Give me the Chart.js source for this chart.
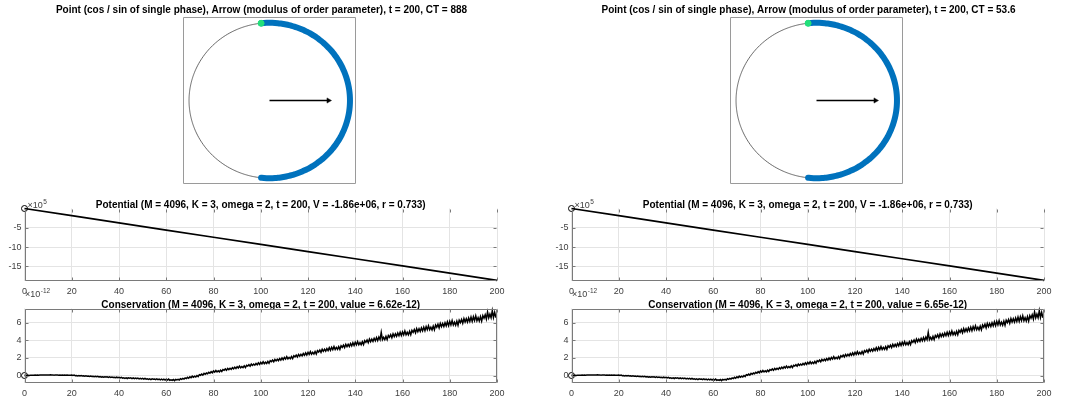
<!DOCTYPE html>
<html>
<head>
<meta charset="utf-8">
<script src="https://cdn.jsdelivr.net/npm/chart.js@4.4.1/dist/chart.umd.min.js"></script>
<style>
  html, body { margin: 0; padding: 0; background: #fff; overflow: hidden; }
  #fig { position: relative; width: 1069px; height: 403px; overflow: hidden; }
  #fig canvas { position: absolute; }
</style>
</head>
<body>
<div id="fig">
  <canvas id="circleL" width="539" height="184" style="left:-8px;top:5px"></canvas>
  <canvas id="potentialL" width="540" height="103" style="left:0px;top:198px"></canvas>
  <canvas id="conservationL" width="540" height="115" style="left:0px;top:288px"></canvas>
  <canvas id="circleR" width="539" height="184" style="left:539px;top:5px"></canvas>
  <canvas id="potentialR" width="540" height="103" style="left:547px;top:198px"></canvas>
  <canvas id="conservationR" width="540" height="115" style="left:547px;top:288px"></canvas>
</div>
<script>
// values
const timeTicks = [0, 20, 40, 60, 80, 100, 120, 140, 160, 180, 200]
const potentialTime = [0, 20, 40, 60, 80, 100, 120, 140, 160, 180, 200]
const potentialE5 = [0, -1.86, -3.73, -5.59, -7.45, -9.31, -11.17, -13.03, -14.9, -16.76, -18.62]
const potentialTicks = [-15, -10, -5]
const conservationTicks = [0, 2, 4, 6]

// conservation error (x 1e-12), two samples per time unit, t = 0 .. 200
const conservationLeftE12 = [
  0, 0.02, 0.0, 0.03, 0.01, 0.04, 0.02, 0.04, 0.03, 0.05, 0.03, 0.06, 0.04, 0.06, 0.05, 0.07, 0.05, 0.07, 0.05, 0.07,
  0.07, 0.05, 0.08, 0.05, 0.07, 0.04, 0.07, 0.05, 0.06, 0.04, 0.06, 0.04, 0.06, 0.03, 0.05, 0.03, 0.05, 0.02, 0.04, 0.02,
  0.05, 0.0, 0.04, -0.02, 0.0, -0.04, 0.0, -0.06, -0.01, -0.05, -0.03, -0.08, -0.04, -0.08, -0.06, -0.1, -0.07, -0.11, -0.08, -0.13,
  -0.09, -0.14, -0.1, -0.16, -0.13, -0.18, -0.14, -0.2, -0.14, -0.18, -0.15, -0.21, -0.16, -0.21, -0.18, -0.23, -0.19, -0.24, -0.19, -0.25,
  -0.2, -0.28, -0.21, -0.3, -0.26, -0.32, -0.26, -0.34, -0.26, -0.31, -0.27, -0.35, -0.27, -0.35, -0.3, -0.37, -0.3, -0.38, -0.31, -0.39,
  -0.32, -0.4, -0.33, -0.42, -0.38, -0.44, -0.38, -0.46, -0.38, -0.43, -0.39, -0.47, -0.39, -0.47, -0.41, -0.49, -0.42, -0.49, -0.42, -0.51,
  -0.41, -0.52, -0.41, -0.54, -0.48, -0.56, -0.46, -0.58, -0.44, -0.51, -0.43, -0.51, -0.36, -0.44, -0.33, -0.41, -0.27, -0.35, -0.21, -0.31,
  -0.15, -0.25, -0.08, -0.2, -0.08, -0.16, 0.0, -0.12, 0.09, 0.03, 0.16, 0.05, 0.24, 0.14, 0.28, 0.19, 0.36, 0.26, 0.44, 0.31,
  0.51, 0.38, 0.57, 0.4, 0.53, 0.42, 0.6, 0.45, 0.68, 0.59, 0.74, 0.59, 0.8, 0.67, 0.82, 0.7, 0.89, 0.75, 0.95, 0.79,
  1.0, 0.85, 1.06, 0.87, 1.01, 0.89, 1.09, 0.91, 1.16, 1.07, 1.22, 1.06, 1.29, 1.14, 1.3, 1.17, 1.37, 1.22, 1.43, 1.25,
  1.49, 1.32, 1.56, 1.34, 1.51, 1.37, 1.59, 1.39, 1.68, 1.57, 1.75, 1.56, 1.82, 1.66, 1.84, 1.69, 1.92, 1.75, 2.0, 1.79,
  2.05, 1.86, 2.13, 1.88, 2.06, 1.9, 2.15, 1.92, 2.24, 2.11, 2.31, 2.1, 2.39, 2.2, 2.4, 2.23, 2.49, 2.29, 2.57, 2.33,
  2.63, 2.4, 2.71, 2.41, 2.62, 2.43, 2.72, 2.44, 2.81, 2.66, 2.89, 2.63, 2.97, 2.74, 2.98, 2.76, 3.06, 2.83, 3.15, 2.86,
  3.2, 2.94, 3.28, 2.95, 3.18, 2.96, 3.28, 2.97, 3.37, 3.2, 3.45, 3.17, 3.54, 3.28, 3.54, 3.3, 3.63, 3.37, 3.72, 3.4,
  3.77, 3.48, 3.85, 3.49, 3.74, 3.5, 3.84, 3.51, 3.95, 3.76, 4.03, 3.73, 4.13, 3.84, 4.12, 3.87, 4.22, 3.94, 4.31, 3.97,
  4.36, 4.06, 4.89, 4.06, 4.32, 4.07, 4.43, 4.07, 4.54, 4.34, 4.63, 4.29, 4.73, 4.42, 4.72, 4.44, 4.82, 4.51, 4.91, 4.54,
  4.95, 4.62, 5.04, 4.62, 4.9, 4.62, 5.01, 4.62, 5.12, 4.9, 5.21, 4.85, 5.31, 4.97, 5.3, 4.99, 5.39, 5.06, 5.49, 5.09,
  5.55, 5.19, 5.64, 5.19, 5.48, 5.18, 5.6, 5.18, 5.72, 5.48, 5.81, 5.41, 5.91, 5.55, 5.89, 5.56, 5.99, 5.63, 6.09, 5.66,
  6.15, 5.74, 6.23, 5.73, 6.05, 5.71, 6.17, 5.7, 6.28, 6.01, 6.36, 5.93, 6.46, 6.06, 6.43, 6.06, 6.53, 6.13, 6.63, 6.14,
  6.67, 6.23, 6.76, 6.21, 6.56, 6.19, 6.68, 6.17, 6.8, 6.5, 6.89, 6.41, 7.2, 6.55, 6.95, 6.55, 7.35, 6.58, 7.16, 6.63,
  6.62
]
const conservationRightE12 = conservationLeftE12.slice(0, 400).concat([6.65])
const conservationTime = conservationLeftE12.map((v, i) => i / 2)

const phaseSpanDeg = [-96, 96]   // spread of the oscillator phases (blue arc)
const singlePhaseDeg = 96        // the single tracked phase (green point)
const orderParamR = 0.733        // modulus of the order parameter (arrow)
const ctLabels = ['888', '53.6']
const conservationLabels = ['6.62e-12', '6.65e-12']

const FONT = "'Liberation Sans', Arial, Helvetica, sans-serif"
Chart.defaults.font.family = FONT
const gridColor = '#e4e4e4'
const tickColor = '#404040'
const axisColor = '#7a7a7a'

// box around the axes, inward tick marks and the x10^n multiplier
const axesBox = {
  id: 'axesBox',
  afterDraw(chart, args, opts) {
    const { ctx, chartArea: a } = chart
    const l = Math.round(a.left) + 0.5
    const r = Math.round(a.right) - 0.5
    const t = Math.round(a.top) + 0.5
    const b = Math.round(a.bottom) - 0.5
    ctx.save()
    ctx.strokeStyle = opts.color
    ctx.lineWidth = 1
    ctx.beginPath()
    if (opts.fullBox) {
      ctx.rect(l, t, r - l, b - t)
    } else {
      ctx.moveTo(l, t)
      ctx.lineTo(l, b)
      ctx.lineTo(r, b)
    }
    if (opts.tickLen) {
      const xs = chart.scales.x
      const ys = chart.scales.y
      xs.ticks.forEach((tk) => {
        const px = Math.round(xs.getPixelForValue(tk.value)) + 0.5
        ctx.moveTo(px, b)
        ctx.lineTo(px, b - opts.tickLen)
        ctx.moveTo(px, t)
        ctx.lineTo(px, t + opts.tickLen)
      })
      ys.ticks.forEach((tk) => {
        const py = Math.round(ys.getPixelForValue(tk.value)) + 0.5
        ctx.moveTo(l, py)
        ctx.lineTo(l + opts.tickLen, py)
        ctx.moveTo(r, py)
        ctx.lineTo(r - opts.tickLen, py)
      })
    }
    ctx.stroke()
    if (opts.exponent) {
      const ex = a.left + opts.expDx
      const ey = a.top + opts.expDy
      ctx.fillStyle = tickColor
      ctx.textAlign = 'left'
      ctx.textBaseline = 'middle'
      ctx.font = '9px ' + FONT
      ctx.fillText('\u00d710', ex, ey)
      const w = ctx.measureText('\u00d710').width
      ctx.font = '6.5px ' + FONT
      ctx.fillText(opts.exponent, ex + w + 0.5, ey - 3.5)
    }
    ctx.restore()
  },
}

function arcPoints(fromDeg, toDeg, stepDeg, r) {
  const pts = []
  for (let d = fromDeg; d <= toDeg + 1e-9; d += stepDeg) {
    const rad = (d * Math.PI) / 180
    pts.push({ x: r * Math.cos(rad), y: r * Math.sin(rad) })
  }
  return pts
}

// invisible side scale, used only to reserve the margin beside the square axes
function marginScale(position, width) {
  return {
    type: 'linear',
    position: position,
    display: true,
    min: -1.075,
    max: 1.075,
    afterFit: (s) => {
      s.width = width
    },
    ticks: { display: false },
    grid: { display: false },
    border: { display: false },
  }
}

function makeCircle(id, ct) {
  new Chart(document.getElementById(id), {
    type: 'scatter',
    data: {
      datasets: [
        {
          data: arcPoints(singlePhaseDeg, singlePhaseDeg, 1, 1),
          pointRadius: 3,
          pointBackgroundColor: '#22e07a',
          pointBorderColor: '#22e07a',
          clip: false,
        },
        {
          data: [{ x: 0, y: 0 }, { x: orderParamR, y: 0 }],
          showLine: true,
          borderColor: '#000',
          borderWidth: 1.5,
          pointStyle: 'triangle',
          pointRotation: 90,
          pointRadius: [0, 3],
          pointBackgroundColor: '#000',
          pointBorderColor: '#000',
          pointBorderWidth: 0.5,
          clip: false,
        },
        {
          data: arcPoints(phaseSpanDeg[0], phaseSpanDeg[1], 2, 1),
          showLine: true,
          borderColor: '#0072BD',
          borderWidth: 6,
          borderCapStyle: 'round',
          tension: 0.2,
          pointRadius: 0,
          clip: false,
        },
        {
          data: arcPoints(0, 360, 3, 1),
          showLine: true,
          borderColor: '#444',
          borderWidth: 0.8,
          tension: 0.2,
          pointRadius: 0,
          clip: false,
        },
      ],
    },
    options: {
      animation: false,
      responsive: false,
      devicePixelRatio: 1,
      events: [],
      layout: { padding: 0 },
      plugins: {
        legend: { display: false },
        tooltip: { enabled: false },
        title: {
          display: true,
          text: 'Point (cos / sin of single phase), Arrow (modulus of order parameter), t = 200, CT = ' + ct,
          color: '#000',
          font: { size: 10, weight: 'bold', lineHeight: 1 },
          padding: { top: 0, bottom: 2 },
        },
        axesBox: { fullBox: true, color: '#9a9a9a', tickLen: 0 },
      },
      scales: {
        x: { display: false, min: -1.075, max: 1.075 },
        y: marginScale('left', 191),
        y2: marginScale('right', 175),
      },
    },
    plugins: [axesBox],
  })
}

function makeLinePanel(id, cfg) {
  new Chart(document.getElementById(id), {
    type: 'line',
    data: {
      datasets: [
        {
          data: cfg.points,
          borderColor: '#000',
          borderWidth: cfg.lineWidth,
          pointRadius: (c) => (c.dataIndex === 0 ? 3 : 0),
          pointBorderColor: '#000',
          pointBackgroundColor: 'rgba(0,0,0,0)',
          pointBorderWidth: 1,
          tension: 0,
          clip: false,
        },
      ],
    },
    options: {
      animation: false,
      responsive: false,
      devicePixelRatio: 1,
      events: [],
      layout: { padding: { left: 0, right: 43, top: 0, bottom: 0 } },
      plugins: {
        legend: { display: false },
        tooltip: { enabled: false },
        title: {
          display: true,
          text: cfg.title,
          fullSize: false,
          color: '#000',
          font: { size: 10, weight: 'bold', lineHeight: 0.75 },
          padding: { top: cfg.titleTop, bottom: 0 },
        },
        axesBox: {
          fullBox: cfg.fullBox,
          color: axisColor,
          tickLen: 3,
          exponent: cfg.exponent,
          expDx: cfg.expDx,
          expDy: cfg.expDy,
        },
      },
      scales: {
        x: {
          type: 'linear',
          min: 0,
          max: 200,
          afterBuildTicks: (s) => {
            s.ticks = timeTicks.map((v) => ({ value: v }))
          },
          afterFit: (s) => {
            s.height = 20
          },
          grid: { color: gridColor, drawTicks: false },
          border: { display: false },
          ticks: { padding: 5, color: tickColor, font: { size: 9 }, maxRotation: 0, autoSkip: false },
        },
        y: {
          type: 'linear',
          min: cfg.yMin,
          max: cfg.yMax,
          afterBuildTicks: (s) => {
            s.ticks = cfg.yTicks.map((v) => ({ value: v }))
          },
          afterFit: (s) => {
            s.width = 24.5
          },
          grid: { color: gridColor, drawTicks: false },
          border: { display: false },
          ticks: { padding: 3, color: tickColor, font: { size: 9 } },
        },
      },
    },
    plugins: [axesBox],
  })
}

function makeColumn(side, idx, conservation) {
  makeCircle('circle' + side, ctLabels[idx])
  makeLinePanel('potential' + side, {
    points: potentialTime.map((t, i) => ({ x: t, y: potentialE5[i] })),
    title: 'Potential (M = 4096, K = 3, omega = 2, t = 200, V = -1.86e+06, r = 0.733)',
    titleTop: 3,
    lineWidth: 1.7,
    yMin: -18.8,
    yMax: 0,
    yTicks: potentialTicks,
    fullBox: false,
    exponent: '5',
    expDx: 3,
    expDy: -3,
  })
  makeLinePanel('conservation' + side, {
    points: conservationTime.map((t, i) => ({ x: t, y: conservation[i] })),
    title: 'Conservation (M = 4096, K = 3, omega = 2, t = 200, value = ' + conservationLabels[idx] + ')',
    titleTop: 13,
    lineWidth: 1.5,
    yMin: -0.85,
    yMax: 7.6,
    yTicks: conservationTicks,
    fullBox: true,
    exponent: '-12',
    expDx: 0.5,
    expDy: -13.5,
  })
}

makeColumn('L', 0, conservationLeftE12)
makeColumn('R', 1, conservationRightE12)
</script>
</body>
</html>
